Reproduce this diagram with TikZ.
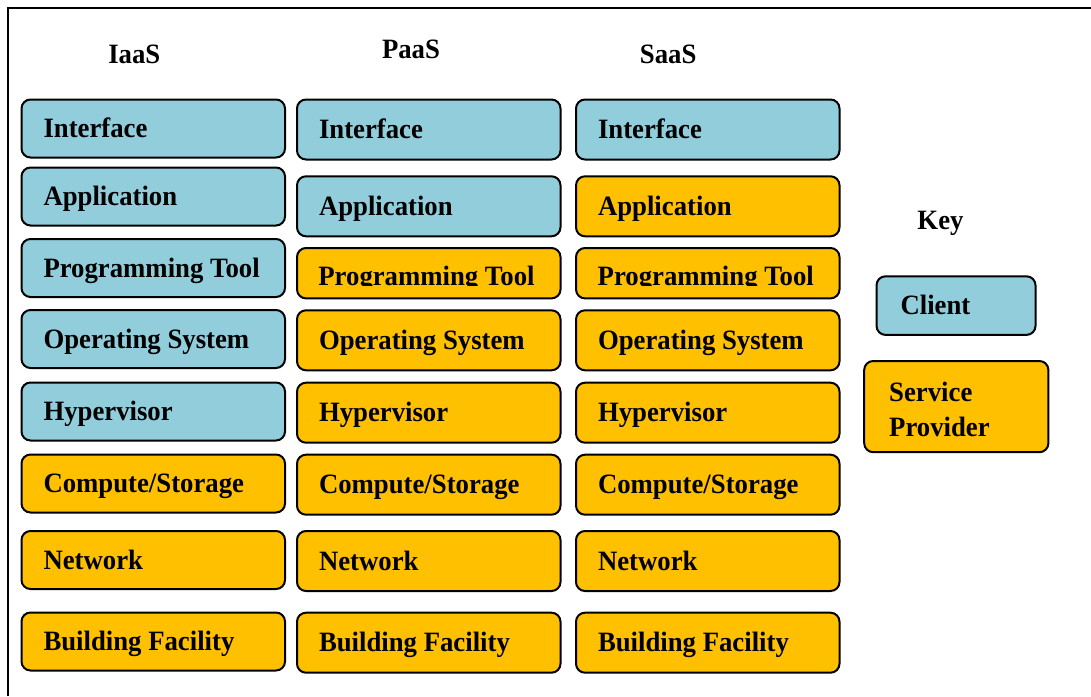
\documentclass[tikz,border=0pt]{standalone}
\usepackage{fontspec}
\setmainfont{Liberation Serif}[FakeStretch=0.955]

\definecolor{clientblue}{RGB}{146,205,220}
\definecolor{providergold}{RGB}{255,192,0}

\begin{document}
\begin{tikzpicture}[x=0.5pt, y=-0.5pt,
    every node/.style={font=\fontsize{14}{17.5}\selectfont\bfseries},
    layer/.style={draw=black, line width=1pt, rounded corners=4.5pt, anchor=north west,
                  minimum width=131.75pt, minimum height=30pt, text width=109.75pt,
                  inner xsep=11pt, inner ysep=0pt, align=flush left, text height=9.2pt, text depth=0pt},
    iaas/.style={minimum height=29pt},
    client/.style={layer, fill=clientblue},
    provider/.style={layer, fill=providergold},
    heading/.style={anchor=base, inner sep=0pt}]
\useasboundingbox (0, 0) rectangle (1091, 696);
\draw[line width=0.7pt] (8, 696) -- (8, 8) -- (1091, 8);

\node[heading] (hIaaS) at (134.3, 63.3) {IaaS};
\node[heading] (hPaaS) at (411, 58.3) {PaaS};
\node[heading] (hSaaS) at (668.2, 63.3) {SaaS};
\node[heading] (hKey) at (940.5, 229.3) {Key};

\node[client, iaas] (iIface) at (20.5, 98.5) {Interface};
\node[client, iaas] (iApp) at (20.5, 166.5) {Application};
\node[client, iaas] (iProg) at (20.5, 238) {Programming Tool};
\node[client, iaas] (iOS) at (20.5, 309) {Operating System};
\node[client, iaas] (iHyper) at (20.5, 381.5) {Hypervisor};
\node[provider, iaas] (iComp) at (20.5, 453.5) {Compute/Storage};
\node[provider, iaas] (iNet) at (20.5, 530) {Network};
\node[provider, iaas] (iBuild) at (20.5, 611.5) {Building Facility};

\node[client] (pIface) at (296, 98.5) {Interface};
\node[client] (pApp) at (296, 175.3) {Application};
\node[provider, minimum height=25.2pt] (pProg) at (296, 247) {};
\node[provider] (pOS) at (296, 309.3) {Operating System};
\node[provider] (pHyper) at (296, 381.7) {Hypervisor};
\node[provider] (pComp) at (296, 453.7) {Compute/Storage};
\node[provider] (pNet) at (296, 530) {Network};
\node[provider] (pBuild) at (296, 611.7) {Building Facility};

\node[client] (sIface) at (575, 98.5) {Interface};
\node[provider] (sApp) at (575, 175.3) {Application};
\node[provider, minimum height=25.2pt] (sProg) at (575, 247) {};
\node[provider] (sOS) at (575, 309.3) {Operating System};
\node[provider] (sHyper) at (575, 381.7) {Hypervisor};
\node[provider] (sComp) at (575, 453.7) {Compute/Storage};
\node[provider] (sNet) at (575, 530) {Network};
\node[provider] (sBuild) at (575, 611.7) {Building Facility};

\begin{scope}
    \clip (296, 247) rectangle (840, 285.7);
    \node[anchor=base west, inner sep=0pt] (pProgText) at (318, 285.5) {Programming Tool};
    \node[anchor=base west, inner sep=0pt] (sProgText) at (597.3, 285.5) {Programming Tool};
\end{scope}

\node[client, minimum width=79.5pt, minimum height=29.3pt, text width=55.5pt, inner xsep=12pt] (keyClient) at (875.5, 275.3) {Client};
\node[provider, minimum width=92.1pt, minimum height=45.6pt, text width=67.1pt, inner xsep=12.5pt,
      text height=12.2pt, text depth=17.5pt] (keyProv) at (863.2, 360) {Service\\Provider};
\end{tikzpicture}
\end{document}
